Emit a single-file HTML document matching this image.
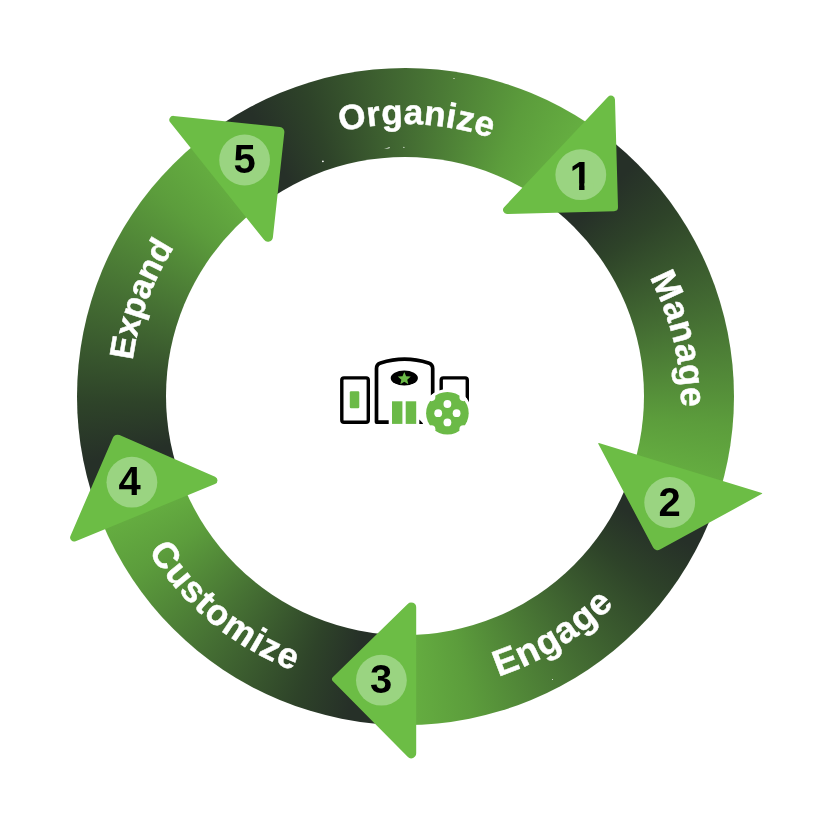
<!DOCTYPE html>
<html><head><meta charset="utf-8"><title>Cycle</title>
<style>
html,body{margin:0;padding:0;background:#fff;}
#stage{position:relative;width:818px;height:818px;overflow:hidden;background:#fff;}
#ring{position:absolute;left:76.5px;top:67.5px;width:657.0px;height:657.0px;border-radius:50%;background:conic-gradient(from 322.83deg at 50% 50%, rgb(38,48,40) 0.00deg, rgb(38,48,40) 8.58deg, rgb(46,67,41) 19.14deg, rgb(69,111,51) 39.24deg, rgb(92,157,60) 59.40deg, rgb(100,172,64) 68.93deg, rgb(103,178,66) 72.93deg, rgb(38,48,40) 72.93deg, rgb(38,48,40) 81.72deg, rgb(46,67,41) 92.24deg, rgb(69,111,51) 112.25deg, rgb(92,157,60) 132.33deg, rgb(100,172,64) 141.82deg, rgb(103,178,66) 145.82deg, rgb(38,48,40) 145.82deg, rgb(38,48,40) 154.58deg, rgb(46,67,41) 165.14deg, rgb(69,111,51) 185.23deg, rgb(92,157,60) 205.38deg, rgb(100,172,64) 214.92deg, rgb(103,178,66) 218.92deg, rgb(38,48,40) 218.92deg, rgb(38,48,40) 227.36deg, rgb(46,67,41) 237.09deg, rgb(69,111,51) 255.62deg, rgb(92,157,60) 274.20deg, rgb(100,172,64) 282.98deg, rgb(103,178,66) 286.98deg, rgb(38,48,40) 286.98deg, rgb(38,48,40) 295.38deg, rgb(46,67,41) 305.99deg, rgb(69,111,51) 326.18deg, rgb(92,157,60) 346.42deg, rgb(100,172,64) 356.00deg, rgb(103,178,66) 360.00deg);}
#hole{position:absolute;left:166.0px;top:157.0px;width:478.0px;height:478.0px;border-radius:50%;background:#fff;}
</style></head><body>
<div id="stage">
<div id="ring"></div><div id="hole"></div>
<svg width="818" height="818" viewBox="0 0 818 818" style="position:absolute;left:0;top:0;will-change:transform">
<defs>
<path id="tp0" d="M204.18 212.55 A272.00 272.00 0 0 1 620.54 230.08"/>
<path id="tp1" d="M529.60 161.10 A272.00 272.00 0 0 1 628.16 566.00"/>
<path id="tp2" d="M312.78 676.95 A295.70 295.70 0 0 0 697.70 438.03"/>
<path id="tp3" d="M103.12 396.88 A296.50 296.50 0 0 0 454.12 685.25"/>
<path id="tp4" d="M167.04 532.84 A274.50 274.50 0 0 1 311.56 137.89"/>
</defs>
<path d="M614.97 99.38 A4.00 4.00 0 0 0 608.06 96.75 L504.08 207.21 A4.00 4.00 0 0 0 507.09 213.95 L614.09 211.20 A4.00 4.00 0 0 0 617.99 207.09Z" fill="#6cbd45"/>
<path d="M598.26 443.76 A0.50 0.50 0 0 1 598.85 443.05 L761.86 492.95 A0.50 0.50 0 0 1 761.96 493.87 L659.95 549.57 A5.00 5.00 0 0 1 653.13 547.52Z" fill="#6cbd45"/>
<path d="M407.70 603.91 A5.00 5.00 0 0 1 416.20 607.48 L416.20 753.33 A5.00 5.00 0 0 1 407.64 756.84 L332.92 681.25 A3.00 3.00 0 0 1 332.96 676.99Z" fill="#6cbd45"/>
<path d="M215.07 476.72 A4.00 4.00 0 0 1 214.99 484.09 L75.63 541.18 A4.00 4.00 0 0 1 70.45 535.89 L112.91 437.70 A5.00 5.00 0 0 1 119.50 435.10Z" fill="#6cbd45"/>
<path d="M173.70 115.88 A4.00 4.00 0 0 0 170.17 122.36 L264.04 239.74 A5.00 5.00 0 0 0 272.91 237.16 L284.35 132.40 A5.00 5.00 0 0 0 279.90 126.88Z" fill="#6cbd45"/>
<circle cx="580.8" cy="174.7" r="25.4" fill="#9ad481"/>
<text x="580.8" y="189.6" font-family="'Liberation Sans', sans-serif" font-weight="700" font-size="40" text-anchor="middle" fill="#000">1</text>
<circle cx="669.7" cy="502.5" r="25.4" fill="#9ad481"/>
<text x="669.6" y="515.6" font-family="'Liberation Sans', sans-serif" font-weight="700" font-size="40" text-anchor="middle" fill="#000">2</text>
<circle cx="381.4" cy="680.2" r="25.4" fill="#9ad481"/>
<text x="381.1" y="693.3" font-family="'Liberation Sans', sans-serif" font-weight="700" font-size="40" text-anchor="middle" fill="#000">3</text>
<circle cx="131.9" cy="482.2" r="25.4" fill="#9ad481"/>
<text x="129.5" y="495.4" font-family="'Liberation Sans', sans-serif" font-weight="700" font-size="40" text-anchor="middle" fill="#000">4</text>
<circle cx="244.6" cy="160.0" r="25.4" fill="#9ad481"/>
<text x="244.7" y="172.8" font-family="'Liberation Sans', sans-serif" font-weight="700" font-size="40" text-anchor="middle" fill="#000">5</text>
<rect x="570.5" y="183.3" width="8.6" height="7.2" fill="#9ad481"/>
<rect x="584.5" y="183.3" width="8.6" height="7.2" fill="#9ad481"/>
<text font-family="'Liberation Sans', sans-serif" font-weight="700" font-size="35.0" fill="#fff" stroke="#fff" stroke-width="0.5" text-anchor="middle" letter-spacing="0.35"><textPath href="#tp0" startOffset="50%">Organize</textPath></text>
<text font-family="'Liberation Sans', sans-serif" font-weight="700" font-size="35.5" fill="#fff" stroke="#fff" stroke-width="0.5" text-anchor="middle" letter-spacing="0.48"><textPath href="#tp1" startOffset="50%">Manage</textPath></text>
<text font-family="'Liberation Sans', sans-serif" font-weight="700" font-size="36.5" fill="#fff" stroke="#fff" stroke-width="0.5" text-anchor="middle" letter-spacing="1.07"><textPath href="#tp2" startOffset="50%">Engage</textPath></text>
<text font-family="'Liberation Sans', sans-serif" font-weight="700" font-size="36.0" fill="#fff" stroke="#fff" stroke-width="0.5" text-anchor="middle" letter-spacing="1.10"><textPath href="#tp3" startOffset="50%">Customize</textPath></text>
<text font-family="'Liberation Sans', sans-serif" font-weight="700" font-size="34.0" fill="#fff" stroke="#fff" stroke-width="0.5" text-anchor="middle" letter-spacing="-0.29"><textPath href="#tp4" startOffset="50%">Expand</textPath></text>
<g fill="#fff"><path d="M384.1 148.9L389.9 147.1L389.4 148.2Z"/><circle cx="403.9" cy="147.3" r="0.6"/><circle cx="322.9" cy="161.3" r="0.9"/><circle cx="454" cy="78.5" r="0.6"/><circle cx="552.5" cy="679.5" r="0.5"/></g>
<g id="icon" fill="none" stroke="#000" stroke-width="3.4" stroke-linejoin="round">
<rect x="341.8" y="377.9" width="26.5" height="44.3" rx="2.2"/>
<path stroke-width="3.7" d="M388.7 422.1H376.5V368.5Q376.4 364.2 380.6 362.9Q404.5 355.2 428.5 362.9Q432.7 364.2 432.7 368.5V400"/>
<path d="M441.2 422V380.1Q441.2 377.9 443.4 377.9H465.1Q467.3 377.9 467.3 380.1V422"/>
</g>
<rect x="349.8" y="391.2" width="9.5" height="17.1" rx="1.2" fill="#6bba47"/>
<rect x="392" y="401.3" width="10.4" height="22.6" fill="#6bba47"/>
<rect x="405.7" y="401.3" width="10.5" height="22.6" fill="#6bba47"/>
<ellipse cx="404.3" cy="378" rx="13.6" ry="7.6" fill="#000"/>
<polygon points="404.30,371.90 406.12,376.19 410.77,376.60 407.25,379.66 408.30,384.20 404.30,381.80 400.30,384.20 401.35,379.66 397.83,376.60 402.48,376.19" fill="#6bba47"/>
<circle cx="447.4" cy="413.2" r="24.3" fill="#fff"/>
<path d="M419.3 419.6L422.9 423.2V423.9H419.3Z" fill="#000"/>
<circle cx="447.4" cy="413.2" r="21.3" fill="#6bba47"/>
<circle cx="447.4" cy="404.0" r="3.9" fill="#fff"/>
<circle cx="456.6" cy="413.2" r="3.9" fill="#fff"/>
<circle cx="447.4" cy="422.4" r="3.9" fill="#fff"/>
<circle cx="438.2" cy="413.2" r="3.9" fill="#fff"/>
<clipPath id="gc"><circle cx="447.4" cy="413.2" r="24.3"/></clipPath>
<g clip-path="url(#gc)" fill="#fff">
<circle cx="463.5" cy="429.3" r="4.1"/>
<circle cx="431.3" cy="429.3" r="4.1"/>
<circle cx="431.3" cy="397.1" r="4.1"/>
<circle cx="463.5" cy="397.1" r="4.1"/>
</g>
</svg>
</div>
</body></html>
